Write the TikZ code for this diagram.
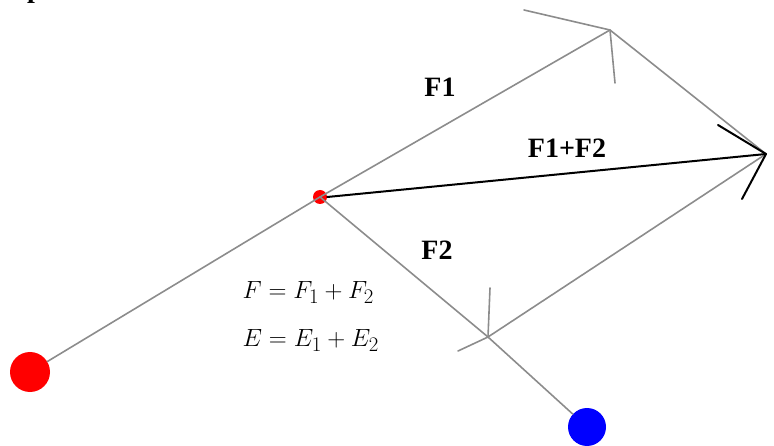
\documentclass[tikz,border=0pt]{standalone}
\usepackage{fontspec}
\setmainfont{Liberation Serif}
\definecolor{vecgray}{RGB}{140,140,140}
\definecolor{chargered}{RGB}{255,0,0}
\definecolor{chargeblue}{RGB}{0,0,255}
\tikzset{
    vec/.style={draw=vecgray, line width=1.6pt},
    sumvec/.style={draw=black, line width=2pt},
    charge/.style={circle, inner sep=0pt, minimum size=#1},
    lab/.style={
        font=\fontsize{28}{32}\selectfont\bfseries, anchor=base
    },
    eqn/.style={
        font=\fontsize{28}{32}\selectfont, anchor=base west
    }
}

\begin{document}
\begin{tikzpicture}[x=1pt,y=-1pt,line cap=round,line join=round]

% --- frame (pixel units of the reference) ---
    \useasboundingbox (0,0) rectangle (774,446);

% charges
    \node[charge=40pt, fill=chargered] (src1) at (30,372) {};
    \node[charge=38pt, fill=chargeblue] (src2) at (587,427) {};
    \node[charge=14pt, fill=chargered] (q) at (320,197) {};

% vector tips and barb ends
    \coordinate (f1tip) at (610,30);
    \coordinate (f2tip) at (488,337);
    \coordinate (rtip)  at (766,154);
    \coordinate (f1a) at (524,10);
    \coordinate (f1b) at (615,83);
    \coordinate (f2a) at (490,288);
    \coordinate (f2b) at (458,351);
    \coordinate (ra)  at (718,125);
    \coordinate (rb)  at (742,199);

% lines of action
    \draw[vec] (src1) -- (q.center);
    \draw[vec] (f2tip) -- (src2);

% F1 and F2
    \draw[vec] (q.center) -- (f1tip);
    \draw[vec] (f1a) -- (f1tip) -- (f1b);
    \draw[vec] (q.center) -- (f2tip);
    \draw[vec] (f2a) -- (f2tip) -- (f2b);

% parallelogram sides
    \draw[vec] (f1tip) -- (rtip);
    \draw[vec] (f2tip) -- (rtip);

% resultant
    \draw[sumvec] (q.east) -- (rtip);
    \draw[sumvec] (ra) -- (rtip) -- (rb);

% labels
    \node[lab] (lf1) at (440,97) {F1};
    \node[lab] (lsum) at (567,158) {F1+F2};
    \node[lab] (lf2) at (437,260) {F2};

% equations
    \node[eqn] (eq1) at (239,299) {$F = F_1 + F_2$};
    \node[eqn] (eq2) at (239,347) {$E = E_1 + E_2$};

% cut-off heading letter at the top edge
    \node[lab] (head) at (35,-2.5) {p};

\end{tikzpicture}
\end{document}
